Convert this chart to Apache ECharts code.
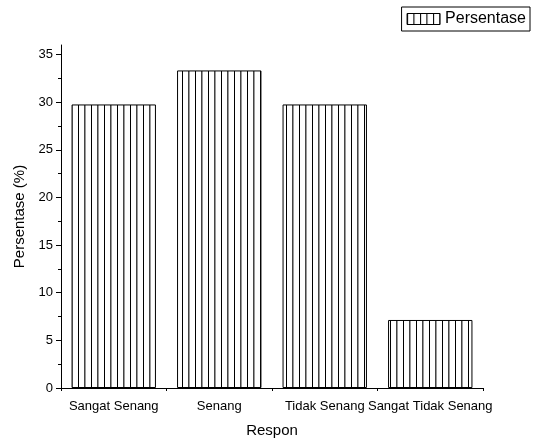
<!DOCTYPE html>
<html>
<head>
<meta charset="utf-8">
<script src="https://cdn.jsdelivr.net/npm/echarts@6/dist/echarts.min.js"></script>
<style>
  html, body { margin: 0; padding: 0; background: #fff; }
  #chart { width: 533px; height: 438px; }
</style>
</head>
<body>
<div id="chart"></div>
<script>
// data
var categories = ['Sangat Senang', 'Senang', 'Tidak Senang', 'Sangat Tidak Senang'];
var persentase = [29.76, 33.33, 29.76, 7.14];
var yTicks = [0, 5, 10, 15, 20, 25, 30, 35];
var yMinorTicks = [2.5, 7.5, 12.5, 17.5, 22.5, 27.5, 32.5];
var xEdges = [0, 1, 2, 3, 4];

// vertical line fill
function stripes() {
    var c = document.createElement('canvas');
    c.width = 13;
    c.height = 10;
    var ctx = c.getContext('2d');
    ctx.fillStyle = '#fff';
    ctx.fillRect(0, 0, 13, 10);
    ctx.fillStyle = '#000';
    ctx.fillRect(0, 0, 1, 10);
    ctx.fillStyle = '#444';
    ctx.fillRect(6, 0, 1, 10);
    ctx.fillStyle = '#999';
    ctx.fillRect(7, 0, 1, 10);
    return c;
}
var fill = { image: stripes(), repeat: 'repeat' };

var chart = echarts.init(document.getElementById('chart'));
var font = 'Liberation Sans, Arial, sans-serif';
var option = {
    animation: false,
    backgroundColor: '#fff',
    textStyle: { fontFamily: font },
    grid: { left: 61, right: 50, top: 45, bottom: 50, outerBoundsMode: 'none', containLabel: false },
    legend: {
        right: 3,
        top: 7,
        padding: [4, 4, 4, 5],
        borderColor: '#000',
        borderWidth: 1,
        itemWidth: 33,
        itemHeight: 11,
        icon: 'rect',
        itemStyle: { borderWidth: 1, borderColor: '#000' },
        textStyle: { fontSize: 16, color: '#000', fontFamily: font },
        data: ['Persentase']
    },
    xAxis: [{
        type: 'category',
        data: categories,
        name: 'Respon',
        nameLocation: 'middle',
        nameGap: 35,
        nameTextStyle: { fontSize: 15, color: '#000' },
        axisLine: { lineStyle: { color: '#000', width: 1 } },
        axisTick: { alignWithLabel: true, length: 5, lineStyle: { color: '#000' } },
        axisLabel: { interval: 0, fontSize: 13, color: '#000', margin: 12 }
    }, {
        // short ticks at category edges
        type: 'value',
        position: 'bottom',
        min: 0,
        max: 4,
        interval: 1,
        axisLine: { show: false },
        axisTick: { show: true, length: 3, customValues: xEdges, lineStyle: { color: '#000' } },
        axisLabel: { show: false },
        splitLine: { show: false }
    }],
    yAxis: [{
        type: 'value',
        name: 'Persentase (%)',
        nameLocation: 'middle',
        nameGap: 33,
        nameTextStyle: { fontSize: 15, color: '#000' },
        min: 0,
        max: 36,
        interval: 5,
        axisLine: { show: true, lineStyle: { color: '#000', width: 1 } },
        axisTick: { show: true, length: 5, customValues: yTicks, lineStyle: { color: '#000' } },
        axisLabel: { fontSize: 13, color: '#000', margin: 8, customValues: yTicks },
        splitLine: { show: false }
    }, {
        // minor ticks
        type: 'value',
        position: 'left',
        min: 0,
        max: 36,
        axisLine: { show: false },
        axisTick: { show: true, length: 3, customValues: yMinorTicks, lineStyle: { color: '#000' } },
        axisLabel: { show: false },
        splitLine: { show: false }
    }],
    series: [{
        name: 'Persentase',
        type: 'bar',
        data: persentase,
        barCategoryGap: '20%',
        itemStyle: { color: fill, borderColor: '#000', borderWidth: 1 }
    }]
};
chart.setOption(option);
</script>
</body>
</html>
